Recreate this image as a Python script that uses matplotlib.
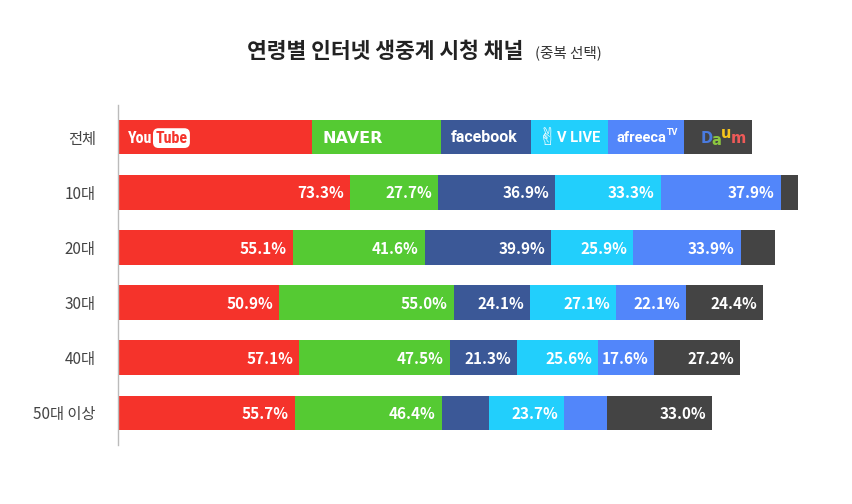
import matplotlib
matplotlib.use("Agg")
import matplotlib.pyplot as plt
import numpy as np

plt.rcParams['font.family'] = ['Noto Sans CJK KR', 'DejaVu Sans']

groups = ['전체', '10대', '20대', '30대', '40대', '50대 이상']
channels = ['YouTube', 'NAVER', 'facebook', 'V LIVE', 'afreecaTV', 'Daum']
colors = ['#F5332B', '#55CA33', '#3B5897', '#22CFFC', '#5286FA', '#444444']

overall = [61.2, 40.7, 28.4, 24.3, 24.0, 21.5]
youtube = [73.3, 55.1, 50.9, 57.1, 55.7]
naver = [27.7, 41.6, 55.0, 47.5, 46.4]
facebook = [36.9, 39.9, 24.1, 21.3, 15.0]
vlive = [33.3, 25.9, 27.1, 25.6, 23.7]
afreeca = [37.9, 33.9, 22.1, 17.6, 13.6]
daum = [5.4, 10.9, 24.4, 27.2, 33.0]
# which values carry a printed label
labeled = [
    [True, True, True, True, True],
    [True, True, True, True, True],
    [True, True, True, True, False],
    [True, True, True, True, True],
    [True, True, True, True, False],
    [False, False, True, True, True],
]

series = [youtube, naver, facebook, vlive, afreeca, daum]

fig = plt.figure(figsize=(8.53, 5.04), dpi=100)
W, H = 853, 504
ax = fig.add_axes([118 / W, 1 - 445 / H, (835 - 118) / W, (445 - 105) / H])
px_per_unit = 3.17
ax.set_xlim(0, (835 - 118) / px_per_unit)
ax.set_ylim(5.58, -0.58)

ypos = np.arange(len(groups))
bh = 0.63
u = 1 / px_per_unit  # data units per pixel

renderer = fig.canvas.get_renderer()


def right_edge(t):
    bb = t.get_window_extent(renderer=renderer)
    return ax.transData.inverted().transform((bb.x1, 0))[0]


# header row
left = 0
for i, v in enumerate(overall):
    ax.barh(0, v, left=left, height=bh, color=colors[i], linewidth=0)
    x0 = left + 10 * u
    if i == 0:
        t = ax.text(x0, 0.02, 'You', color='white', fontsize=11.5, fontweight='bold',
                    va='center', ha='left', family=['Roboto Condensed', 'Roboto', 'DejaVu Sans'])
        xe = right_edge(t)
        ax.text(xe + 3 * u, 0.02, 'Tube', color=colors[0], fontsize=11.5,
                fontweight='bold', va='center', ha='left',
                family=['Roboto Condensed', 'Roboto', 'DejaVu Sans'],
                bbox=dict(boxstyle='round,pad=0.15,rounding_size=0.35', fc='white', ec='none'))
    elif i == 1:
        ax.text(x0, 0.02, 'NAVER', color='white', fontsize=11.5, fontweight='heavy',
                va='center', ha='left', family=['DejaVu Sans'])
    elif i == 2:
        ax.text(x0, 0, 'facebook', color='white', fontsize=11.5, fontweight='bold',
                va='center', ha='left', family=['Roboto', 'DejaVu Sans'])
    elif i == 3:
        ax.text(x0 - 3 * u, 0.02, '✌', color='white', fontsize=17,
                va='center', ha='left', family=['DejaVu Sans'])
        ax.text(x0 + 16 * u, 0.02, 'V LIVE', color='white', fontsize=10.5,
                fontweight='bold', va='center', ha='left', family=['Roboto', 'DejaVu Sans'])
    elif i == 4:
        t = ax.text(x0 - 2 * u, 0.02, 'afreeca', color='white', fontsize=10.5,
                    fontweight='bold', va='center', ha='left', family=['Roboto', 'DejaVu Sans'])
        xe = right_edge(t)
        ax.text(xe + 1 * u, -0.08, 'TV', color='white', fontsize=6.5,
                fontweight='bold', va='center', ha='left', family=['Roboto', 'DejaVu Sans'])
    elif i == 5:
        dc = ['#4A7BE0', '#8BC63F', '#F7C61C', '#EE5A58']
        xs = x0 + 6 * u
        for ch, c, dy in zip('Daum', dc, [0.02, 0.07, -0.07, 0.02]):
            t = ax.text(xs, dy, ch, color=c, fontsize=10.5,
                        fontweight='heavy', va='center', ha='left', family=['DejaVu Sans'])
            xs = right_edge(t) - 0.5 * u
    left += v

# age group rows
for r in range(5):
    left = 0
    for i, s in enumerate(series):
        v = s[r]
        ax.barh(ypos[r + 1], v, left=left, height=bh, color=colors[i], linewidth=0)
        if labeled[i][r]:
            ax.text(left + v - 6 * u, ypos[r + 1] + 0.02, f'{v:.1f}%',
                    color='white', fontsize=11, fontweight='bold', va='center', ha='right')
        left += v

ax.set_yticks(ypos)
ax.set_yticklabels(groups, fontsize=11, color='#444444', fontweight='medium')
ax.tick_params(axis='y', length=0, pad=16)
ax.set_xticks([])
for sp in ['top', 'right', 'bottom']:
    ax.spines[sp].set_visible(False)
ax.spines['left'].set_color('#BBBBBB')
ax.spines['left'].set_linewidth(1)

fig.text(385 / W, 1 - 52 / H, '연령별 인터넷 생중계 시청 채널', fontsize=15.5, fontweight='bold',
         color='#222222', ha='center', va='center')
fig.text(535 / W, 1 - 53 / H, '(중복 선택)', fontsize=10.5, color='#333333',
         ha='left', va='center')

fig.savefig('out.png', dpi=100, facecolor='white')
